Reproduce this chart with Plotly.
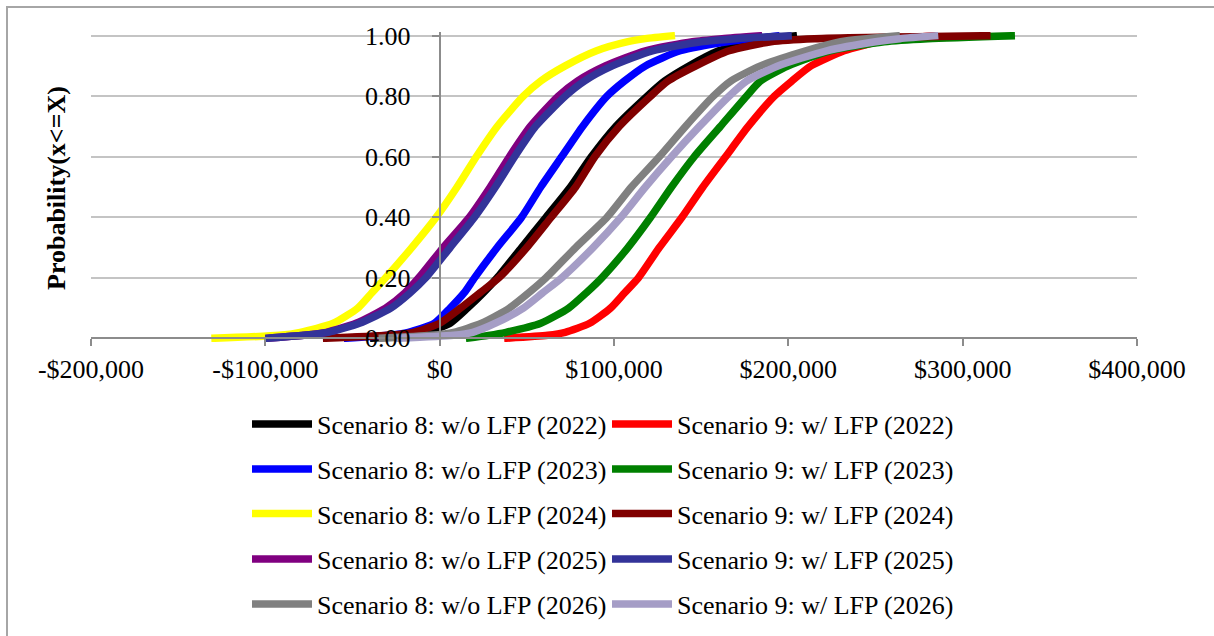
import plotly.graph_objects as go

# Cumulative probability levels (y) shared by all curves
prob = [0.0, 0.01, 0.02, 0.05, 0.10, 0.15, 0.20, 0.30, 0.40, 0.50, 0.60,
        0.70, 0.80, 0.85, 0.90, 0.95, 0.98, 0.99, 1.00]

# Dollar values (x) at each probability level
s8_2022 = [-40000, -18000, -8000, 6000, 16000, 25000, 33000, 47000, 61000, 75000, 87000,
           101000, 119000, 129000, 143000, 160000, 178000, 190000, 205000]
s9_2022 = [37000, 62000, 72000, 86000, 98000, 106000, 114000, 126000, 139000, 151000, 164000,
           177000, 192000, 202000, 213000, 232000, 252000, 265000, 285000]
s8_2023 = [-55000, -30000, -18000, -3000, 6000, 14000, 20000, 33000, 47000, 58000, 70000,
           82000, 96000, 106000, 118000, 138000, 165000, 180000, 195000]
s9_2023 = [15000, 28000, 38000, 58000, 74000, 84000, 93000, 108000, 121000, 133000, 146000,
           161000, 176000, 184000, 200000, 224000, 255000, 280000, 330000]
s8_2024 = [-131000, -92000, -80000, -61000, -47000, -39000, -31000, -16000, -2000, 10000, 21000,
           33000, 48000, 58000, 72000, 90000, 108000, 118000, 135000]
s9_2024 = [-67000, -30000, -15000, 0, 12000, 23000, 34000, 50000, 64000, 78000, 89000,
           103000, 121000, 131000, 147000, 166000, 190000, 215000, 316000]
s8_2025 = [-100000, -78000, -65000, -48000, -31000, -20000, -12000, 2000, 17000, 29000, 40000,
           52000, 68000, 79000, 95000, 118000, 145000, 162000, 185000]
s9_2025 = [-100000, -78000, -64000, -46000, -28000, -17000, -8000, 6000, 20000, 32000, 43000,
           55000, 72000, 83000, 99000, 122000, 150000, 170000, 202000]
s8_2026 = [-35000, -5000, 8000, 24000, 40000, 51000, 61000, 78000, 96000, 110000, 126000,
           141000, 157000, 167000, 184000, 210000, 230000, 245000, 264000]
s9_2026 = [-25000, 8000, 19000, 32000, 48000, 59000, 70000, 88000, 104000, 118000, 133000,
           149000, 166000, 176000, 194000, 222000, 250000, 264000, 286000]

names = ["Scenario 8: w/o LFP (2022)", "Scenario 9: w/ LFP (2022)",
         "Scenario 8: w/o LFP (2023)", "Scenario 9: w/ LFP (2023)",
         "Scenario 8: w/o LFP (2024)", "Scenario 9: w/ LFP (2024)",
         "Scenario 8: w/o LFP (2025)", "Scenario 9: w/ LFP (2025)",
         "Scenario 8: w/o LFP (2026)", "Scenario 9: w/ LFP (2026)"]
series = [s8_2022, s9_2022, s8_2023, s9_2023, s8_2024, s9_2024,
          s8_2025, s9_2025, s8_2026, s9_2026]
colors = ["#000000", "#FF0000", "#0000FF", "#008000", "#FFFF00", "#800000",
          "#800080", "#333399", "#808080", "#A59DC6"]

x_ticks = [-200000, -100000, 0, 100000, 200000, 300000, 400000]
x_ticktext = ["-$200,000", "-$100,000", "$0", "$100,000", "$200,000", "$300,000", "$400,000"]
y_ticks = [0.0, 0.2, 0.4, 0.6, 0.8, 1.0]

FONT = "Liberation Serif, Times New Roman, serif"
W, H = 1214, 636
L, R, T, B = 91, 77, 32, 294
pw, ph = W - L - R, H - T - B
YPAD = 0.012
legend_keys = ["legend", "legend2", "legend3", "legend4", "legend5"]
row_px = [424, 469, 513.5, 559, 604]

fig = go.Figure()
for i, (nm, xs, c) in enumerate(zip(names, series, colors)):
    fig.add_trace(go.Scatter(
        x=xs, y=prob, mode="lines", name=nm,
        line=dict(color=c, width=7.5, shape="spline", smoothing=0.6),
        legend=legend_keys[i // 2], hoverinfo="skip"))

layout_legends = {}
for k, py in zip(legend_keys, row_px):
    layout_legends[k] = dict(
        orientation="h", x=(247 - L) / pw, y=(T + ph - py) / ph,
        xanchor="left", yanchor="middle",
        entrywidth=285, entrywidthmode="pixels", itemwidth=60,
        font=dict(family=FONT, size=26, color="black"),
        bgcolor="rgba(0,0,0,0)", borderwidth=0, traceorder="normal")

fig.update_layout(
    width=W, height=H,
    margin=dict(l=L, r=R, t=T, b=B, autoexpand=False),
    paper_bgcolor="white", plot_bgcolor="white",
    font=dict(family=FONT, size=26, color="black"),
    showlegend=True,
    xaxis=dict(range=[-200000, 400000], tickvals=x_ticks, ticktext=x_ticktext,
               anchor="free", position=YPAD / (1 + 2 * YPAD),
               showline=True, linecolor="#8C8C8C", linewidth=2,
               ticks="outside", ticklen=7, tickwidth=2, tickcolor="#8C8C8C",
               showgrid=False, zeroline=False,
               tickfont=dict(family=FONT, size=26, color="black")),
    yaxis=dict(range=[-YPAD, 1 + YPAD], tickvals=y_ticks, tickformat=".2f",
               anchor="free", position=1 / 3,
               showline=True, linecolor="#8C8C8C", linewidth=2,
               ticks="outside", ticklen=7, tickwidth=2, tickcolor="#8C8C8C",
               ticklabelstandoff=16,
               showgrid=True, gridcolor="#C4C4C4", gridwidth=2, zeroline=False,
               tickfont=dict(family=FONT, size=26, color="black")),
    annotations=[dict(text="<b>Probability(x&lt;=X)</b>", textangle=-90,
                      xref="paper", yref="paper",
                      x=(57 - L) / pw, y=(T + ph - 188) / ph,
                      xanchor="center", yanchor="middle", showarrow=False,
                      font=dict(family=FONT, size=26, color="black"))],
    shapes=[dict(type="rect", xref="paper", yref="paper",
                 x0=(7 - L) / pw, x1=(W + 20 - L) / pw,
                 y0=(T + ph - (H + 20)) / ph, y1=(T + ph - 7) / ph,
                 line=dict(color="#A6A6A6", width=2), layer="below")],
    **layout_legends,
)

fig.write_html("out.html")
